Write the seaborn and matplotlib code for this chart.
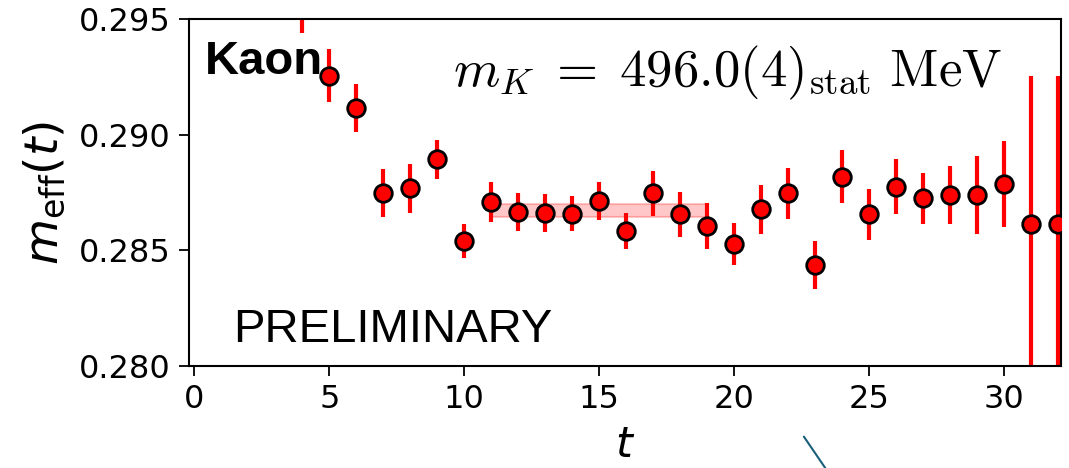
import numpy as np
import pandas as pd
import seaborn as sns
import matplotlib.pyplot as plt
from matplotlib.lines import Line2D

# effective mass data
t = [4, 5, 6, 7, 8, 9, 10, 11, 12, 13, 14, 15, 16, 17, 18,
     19, 20, 21, 22, 23, 24, 25, 26, 27, 28, 29, 30, 31, 32]
m_eff = [0.2955, 0.29255, 0.29117, 0.28749, 0.28768, 0.28894, 0.2854, 0.28708,
         0.28666, 0.2866, 0.28658, 0.28713, 0.28583, 0.28747, 0.28656,
         0.28605, 0.28526, 0.28677, 0.28747, 0.28436, 0.28819, 0.28656,
         0.28775, 0.28725, 0.28739, 0.28739, 0.28786, 0.28612, 0.28612]
m_err = [0.0011, 0.00115, 0.00103, 0.00103, 0.00107, 0.00085, 0.00074, 0.00087,
         0.00081, 0.00083, 0.00075, 0.00081, 0.00079, 0.00098, 0.00097,
         0.001, 0.0009, 0.00107, 0.0011, 0.00105, 0.00113, 0.0011,
         0.0012, 0.0011, 0.00126, 0.00167, 0.00186, 0.00642, 0.00642]

# plateau fit
fit_range = [11, 19]
fit_val = 0.28672
fit_err = 0.00026

df = pd.DataFrame({'t': t, 'm': m_eff, 'err': m_err})

sns.set_style('ticks')
plt.rcParams['mathtext.fontset'] = 'dejavusans'

fig = plt.figure(figsize=(10.69, 4.68), dpi=100)
ax = fig.add_axes([0.1768, 0.2186, 0.8157, 0.7402])

ax.fill_between(fit_range, fit_val - fit_err, fit_val + fit_err,
                color='red', alpha=0.22, lw=1.5, zorder=1)
ax.errorbar(df['t'], df['m'], yerr=df['err'], fmt='none', ecolor='red',
            elinewidth=3, capsize=0, zorder=2)
sns.scatterplot(data=df, x='t', y='m', ax=ax, color='red', edgecolor='black',
                linewidth=2.0, s=160, zorder=3, legend=False)

ax.set_xlim(-0.2, 32.1)
ax.set_ylim(0.280, 0.295)
ax.set_xticks([0, 5, 10, 15, 20, 25, 30])
ax.set_yticks([0.280, 0.285, 0.290, 0.295])
ax.set_yticklabels(['0.280', '0.285', '0.290', '0.295'])
ax.tick_params(labelsize=23, length=7.5, width=1.3, pad=6, colors='black')
for s in ax.spines.values():
    s.set_linewidth(1.5)
    s.set_color('black')

ax.set_xlabel(r'$t$', fontsize=31, labelpad=6, color='black')
ax.set_ylabel(r'$m_\mathrm{eff}(t)$', fontsize=34, labelpad=8, color='black')

ax.text(0.018, 0.842, 'Kaon', transform=ax.transAxes, fontsize=34,
        fontweight='bold', family='Liberation Sans', color='black')
ax.text(0.0505, 0.069, 'PRELIMINARY', transform=ax.transAxes, fontsize=34,
        family='Liberation Sans', color='black')
ax.text(0.303, 0.805, r'$m_K\;=\;496.0(4)_\mathrm{stat}\ \mathrm{MeV}$',
        transform=ax.transAxes, fontsize=38, math_fontfamily='cm', color='black')

# stray arrow segment from the slide
fig.add_artist(Line2D([0.752, 0.772], [0.067, 0.0], color='#1a5f7a', lw=1.5))

fig.savefig('out.png', dpi=100)
